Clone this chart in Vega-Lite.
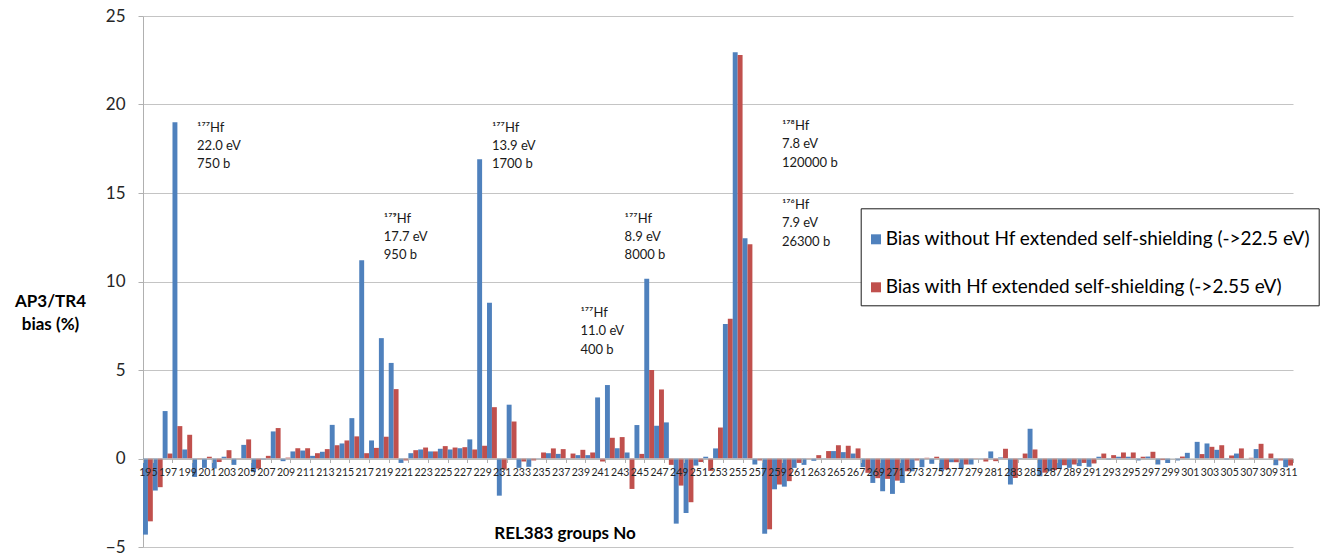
{
  "$schema": "https://vega.github.io/schema/vega-lite/v6.json",
  "autosize": {"type": "none"},
  "padding": {"left": 143, "top": 16, "right": 36, "bottom": 10},
  "width": 1150,
  "height": 531,
  "background": "white",
  "config": {
    "view": {"stroke": null},
    "font": "Lato",
    "axis": {"labelFont": "Lato", "titleFont": "Lato"},
    "legend": {"labelFont": "Lato"}
  },
  "layer": [
    {
      "data": {"values": [
        {"g":195,"without":-4.3,"with":-3.55},{"g":196,"without":-1.81,"with":-1.62},{"g":197,"without":2.68,"with":0.28},{"g":198,"without":19.0,"with":1.83},{"g":199,"without":0.51,"with":1.34},{"g":200,"without":-1.04,"with":0.03},{"g":201,"without":-0.53,"with":0.1},{"g":202,"without":-0.57,"with":-0.2},{"g":203,"without":0.1,"with":0.47},{"g":204,"without":-0.36,"with":0.02},
        {"g":205,"without":0.77,"with":1.08},{"g":206,"without":-0.77,"with":-0.57},{"g":207,"without":-0.05,"with":0.15},{"g":208,"without":1.53,"with":1.72},{"g":209,"without":-0.15,"with":0.05},{"g":210,"without":0.4,"with":0.58},{"g":211,"without":0.45,"with":0.58},{"g":212,"without":0.15,"with":0.3},{"g":213,"without":0.38,"with":0.53},{"g":214,"without":1.9,"with":0.75},
        {"g":215,"without":0.85,"with":1.02},{"g":216,"without":2.28,"with":1.25},{"g":217,"without":11.2,"with":0.3},{"g":218,"without":1.02,"with":0.6},{"g":219,"without":6.8,"with":1.23},{"g":220,"without":5.4,"with":3.92},{"g":221,"without":-0.25,"with":-0.11},{"g":222,"without":0.3,"with":0.47},{"g":223,"without":0.51,"with":0.62},{"g":224,"without":0.4,"with":0.4},
        {"g":225,"without":0.55,"with":0.7},{"g":226,"without":0.51,"with":0.62},{"g":227,"without":0.58,"with":0.64},{"g":228,"without":1.08,"with":0.51},{"g":229,"without":16.9,"with":0.72},{"g":230,"without":8.8,"with":2.9},{"g":231,"without":-2.1,"with":-0.62},{"g":232,"without":3.04,"with":2.09},{"g":233,"without":-0.53,"with":-0.17},{"g":234,"without":-0.47,"with":-0.11},
        {"g":235,"without":0.02,"with":0.34},{"g":236,"without":0.3,"with":0.57},{"g":237,"without":0.26,"with":0.53},{"g":238,"without":0.02,"with":0.28},{"g":239,"without":0.19,"with":0.49},{"g":240,"without":0.19,"with":0.34},{"g":241,"without":3.45,"with":-0.17},{"g":242,"without":4.15,"with":1.17},{"g":243,"without":0.58,"with":1.21},{"g":244,"without":0.34,"with":-1.72},
        {"g":245,"without":1.89,"with":0.26},{"g":246,"without":10.15,"with":5.0},{"g":247,"without":1.85,"with":3.9},{"g":248,"without":2.04,"with":-0.36},{"g":249,"without":-3.68,"with":-1.53},{"g":250,"without":-3.08,"with":-2.47},{"g":251,"without":-0.4,"with":-0.2},{"g":252,"without":0.1,"with":-0.7},{"g":253,"without":0.57,"with":1.75},{"g":254,"without":7.6,"with":7.9},
        {"g":255,"without":22.95,"with":22.8},{"g":256,"without":12.45,"with":12.1},{"g":257,"without":-0.34,"with":-0.11},{"g":258,"without":-4.25,"with":-4.0},{"g":259,"without":-1.74,"with":-1.47},{"g":260,"without":-1.59,"with":-1.28},{"g":261,"without":-0.53,"with":-0.25},{"g":262,"without":-0.36,"with":-0.02},{"g":263,"without":-0.13,"with":0.19},{"g":264,"without":0.02,"with":0.42},
        {"g":265,"without":0.42,"with":0.75},{"g":266,"without":0.36,"with":0.72},{"g":267,"without":0.28,"with":0.57},{"g":268,"without":-0.49,"with":-0.81},{"g":269,"without":-1.38,"with":-1.11},{"g":270,"without":-1.85,"with":-1.15},{"g":271,"without":-2.0,"with":-1.25},{"g":272,"without":-1.38,"with":-0.72},{"g":273,"without":-0.72,"with":-0.11},{"g":274,"without":-0.49,"with":0.04},
        {"g":275,"without":-0.3,"with":0.1},{"g":276,"without":-0.72,"with":-0.62},{"g":277,"without":-0.21,"with":-0.21},{"g":278,"without":-0.55,"with":-0.34},{"g":279,"without":-0.34,"with":-0.02},{"g":280,"without":-0.02,"with":-0.17},{"g":281,"without":0.4,"with":-0.15},{"g":282,"without":0.06,"with":0.55},{"g":283,"without":-1.47,"with":-1.1},{"g":284,"without":0.03,"with":0.28},
        {"g":285,"without":1.68,"with":0.51},{"g":286,"without":-1.0,"with":-0.8},{"g":287,"without":-0.72,"with":-0.66},{"g":288,"without":-0.59,"with":-0.38},{"g":289,"without":-0.53,"with":-0.34},{"g":290,"without":-0.43,"with":-0.25},{"g":291,"without":-0.47,"with":-0.28},{"g":292,"without":0.1,"with":0.28},{"g":293,"without":-0.05,"with":0.19},{"g":294,"without":0.1,"with":0.34},
        {"g":295,"without":0.1,"with":0.34},{"g":296,"without":-0.11,"with":0.1},{"g":297,"without":0.11,"with":0.38},{"g":298,"without":-0.34,"with":-0.09},{"g":299,"without":-0.26,"with":0.0},{"g":300,"without":-0.11,"with":0.11},{"g":301,"without":0.32,"with":0.0},{"g":302,"without":0.94,"with":0.25},{"g":303,"without":0.85,"with":0.66},{"g":304,"without":0.49,"with":0.75},
        {"g":305,"without":-0.05,"with":0.17},{"g":306,"without":0.28,"with":0.57},{"g":307,"without":0.0,"with":0.04},{"g":308,"without":0.53,"with":0.83},{"g":309,"without":0.0,"with":0.28},{"g":310,"without":-0.38,"with":-0.11},{"g":311,"without":-0.49,"with":-0.4}
      ]},
      "transform": [{"fold": ["without", "with"], "as": ["series", "value"]}],
      "mark": {"type": "bar"},
      "encoding": {
        "x": {
          "field": "g", "type": "ordinal",
          "scale": {"paddingInner": 0, "paddingOuter": 0},
          "axis": {
            "title": "REL383 groups No",
            "values": [195,197,199,201,203,205,207,209,211,213,215,217,219,221,223,225,227,229,231,233,235,237,239,241,243,245,247,249,251,253,255,257,259,261,263,265,267,269,271,273,275,277,279,281,283,285,287,289,291,293,295,297,299,301,303,305,307,309,311],
            "zindex": 1,
            "labelAngle": 0,
            "labelFontSize": 10.5,
            "labelColor": "#262626",
            "labelPadding": 5,
            "labelOverlap": false,
            "labelFlush": false,
            "labelBound": false,
            "offset": -88.5,
            "domainColor": "#b0b0b0",
            "ticks": true,
            "tickSize": 4,
            "tickColor": "#b0b0b0",
            "tickBand": "extent",
            "grid": false,
            "titleFontSize": 17,
            "titleFontWeight": "bold",
            "titleColor": "#000000",
            "titleX": 421.5,
            "titleY": 74.5,
            "titleBaseline": "middle",
            "titleAlign": "center"
          }
        },
        "xOffset": {"field": "series", "type": "nominal", "scale": {"domain": ["without", "with"], "paddingInner": 0}},
        "y": {
          "field": "value", "type": "quantitative",
          "scale": {"domain": [-5, 25], "nice": false},
          "axis": {
            "title": ["AP3/TR4", "bias (%)"],
            "values": [-5, 0, 5, 10, 15, 20, 25],
            "labelFontSize": 17,
            "labelColor": "#262626",
            "labelPadding": 13,
            "tickSize": 5,
            "tickColor": "#b0b0b0",
            "domainColor": "#b0b0b0",
            "gridColor": "#c4c4c4",
            "titleAngle": 0,
            "titleFontSize": 17,
            "titleFontWeight": "bold",
            "titleColor": "#000000",
            "titleLineHeight": 23,
            "titleX": -93,
            "titleY": 285,
            "titleAlign": "center",
            "titleBaseline": "middle"
          }
        },
        "color": {
          "field": "series", "type": "nominal",
          "scale": {"domain": ["without", "with"], "range": ["#4f81bd", "#c0504d"]},
          "legend": {
            "title": null,
            "orient": "none",
            "legendX": 717.7,
            "legendY": 192.3,
            "direction": "vertical",
            "strokeColor": "#1a1a1a",
            "fillColor": "#ffffff",
            "padding": 8,
            "rowPadding": 15,
            "symbolType": "M-0.9,-0.217H-0.465V0.217H-0.9Z",
            "symbolSize": 2116,
            "symbolStrokeWidth": 0,
            "labelOffset": -29,
            "labelFontSize": 19,
            "labelColor": "#000000",
            "labelLimit": 600,
            "labelExpr": "datum.label == 'without' ? 'Bias without Hf extended self-shielding (->22.5 eV)' : 'Bias with Hf extended self-shielding (->2.55 eV)'"
          }
        }
      }
    },
    {
      "data": {"values": [
        {"g": 200, "y": 18.47, "t": ["¹⁷⁷Hf", "22.0 eV", "750 b"]},
        {"g": 219, "y": 13.33, "t": ["¹⁷⁹Hf", "17.7 eV", "950 b"]},
        {"g": 230, "y": 18.47, "t": ["¹⁷⁷Hf", "13.9 eV", "1700 b"]},
        {"g": 239, "y": 7.99, "t": ["¹⁷⁷Hf", "11.0 eV", "400 b"]}
      ]},
      "mark": {"type": "text", "align": "left", "baseline": "alphabetic", "font": "Lato", "fontSize": 13, "lineHeight": 18.3, "color": "#1a1a1a"},
      "encoding": {
        "x": {"field": "g", "type": "ordinal", "bandPosition": 0.5},
        "y": {"field": "y", "type": "quantitative"},
        "text": {"field": "t"}
      }
    },
    {
      "data": {"values": [
        {"g": 244, "y": 13.33, "t": ["¹⁷⁷Hf", "8.9 eV", "8000 b"]},
        {"g": 260, "y": 18.56, "t": ["¹⁷⁸Hf", "7.8 eV", "120000 b"]},
        {"g": 260, "y": 14.1, "t": ["¹⁷⁶Hf", "7.9 eV", "26300 b"]}
      ]},
      "mark": {"type": "text", "align": "left", "baseline": "alphabetic", "font": "Lato", "fontSize": 13, "lineHeight": 18.3, "color": "#1a1a1a"},
      "encoding": {
        "x": {"field": "g", "type": "ordinal", "bandPosition": 0},
        "y": {"field": "y", "type": "quantitative"},
        "text": {"field": "t"}
      }
    }
  ]
}
